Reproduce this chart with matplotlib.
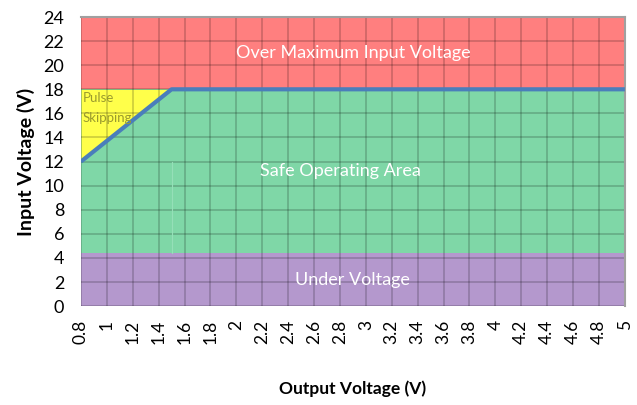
import numpy as np
import matplotlib.pyplot as plt

# Operating limits (volts)
vout_min, vout_max = 0.8, 5.0
vin_max_plot = 24
vin_uvlo = 4.4
vin_max = 18
# Pulse-skipping boundary: minimum on-time limit
boundary_vout = [0.8, 1.5, 5.0]
boundary_vin = [12, 18, 18]

x_ticks = np.round(np.arange(0.8, 5.01, 0.2), 1)
y_ticks = np.arange(0, 25, 2)
x_labels = ["%g" % v for v in x_ticks]

region_labels = ["Over Maximum Input Voltage", "Safe Operating Area",
                 "Under Voltage"]

red = "#FF7F7F"
green = "#7FD7A7"
purple = "#B498CD"
yellow = "#FFFF4A"
blue = "#4A7EBB"

plt.rcParams['font.family'] = ['Lato', 'DejaVu Sans']

fig = plt.figure(figsize=(6.37, 4.05), dpi=100)
ax = fig.add_axes([0.127, 0.244, 0.854, 0.714])

ax.fill_between([vout_min, vout_max], vin_max, vin_max_plot, color=red,
                lw=0, zorder=1)
ax.fill_between([vout_min, vout_max], vin_uvlo, vin_max, color=green,
                lw=0, zorder=1)
ax.fill_between([vout_min, vout_max], 0, vin_uvlo, color=purple,
                lw=0, zorder=1)
ax.fill_between(boundary_vout[:2], boundary_vin[:2], vin_max, color=yellow,
                lw=0, zorder=1)

# darker grid over the coloured regions
for xv in x_ticks:
    ax.plot([xv, xv], [0, vin_max_plot], color="black", alpha=0.2, lw=1.2,
            zorder=2)
for yv in y_ticks:
    ax.plot([vout_min, vout_max], [yv, yv], color="black", alpha=0.2,
            lw=1.2, zorder=2)
ax.plot([1.5, 1.5], [vin_uvlo, 12], color="#95DFB8", lw=0.8, zorder=2)

ax.plot(boundary_vout, boundary_vin, color=blue, lw=3, zorder=3,
        solid_capstyle="butt")

ax.text(2.9, 21, region_labels[0], color="white", fontsize=13,
        ha="center", va="center", zorder=4)
ax.text(2.8, 11.2, region_labels[1], color="white", fontsize=13,
        ha="center", va="center", zorder=4)
ax.text(2.9, 2.2, region_labels[2], color="white", fontsize=13,
        ha="center", va="center", zorder=4)
ax.text(0.815, 17.3, "Pulse", color="#9A9A2E", fontsize=9.5,
        ha="left", va="center", zorder=4)
ax.text(0.815, 15.6, "Skipping", color="#9A9A2E", fontsize=9.5,
        ha="left", va="center", zorder=4)

ax.set_xlim(vout_min, vout_max)
ax.set_ylim(0, vin_max_plot)
ax.set_xticks(x_ticks)
ax.set_xticklabels(x_labels, rotation=90, fontsize=12.5)
ax.set_yticks(y_ticks)
ax.tick_params(axis="y", labelsize=13, length=0, pad=12)
ax.tick_params(axis="x", length=0, pad=10)

for side in ["left", "bottom"]:
    ax.spines[side].set_visible(False)
for side in ["top", "right"]:
    ax.spines[side].set_color("#A0A0A0")
    ax.spines[side].set_linewidth(1.5)

ax.set_xlabel("Output Voltage (V)", fontsize=12.5, fontweight="bold",
              labelpad=26)
ax.set_ylabel("Input Voltage (V)", fontsize=14, fontweight="bold",
              labelpad=6)

fig.savefig("out.png", dpi=100)
